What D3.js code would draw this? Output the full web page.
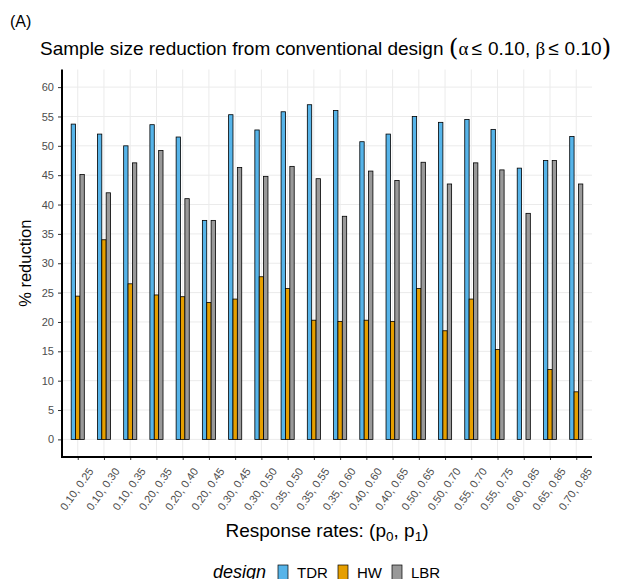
<!DOCTYPE html>
<html>
<head>
<meta charset="utf-8">
<script src="https://cdn.jsdelivr.net/npm/d3@7"></script>
<style>
  body { margin: 0; background: #fff; }
  text { font-family: "Liberation Sans", Arial, sans-serif; }
</style>
</head>
<body>
<div id="chart"></div>
<script>
// response rate pairs (p0, p1)
let rates = ["0.10, 0.25", "0.10, 0.30", "0.10, 0.35", "0.20, 0.35", "0.20, 0.40",
             "0.20, 0.45", "0.30, 0.45", "0.30, 0.50", "0.35, 0.50", "0.35, 0.55",
             "0.35, 0.60", "0.40, 0.60", "0.40, 0.65", "0.50, 0.65", "0.50, 0.70",
             "0.55, 0.70", "0.55, 0.75", "0.60, 0.85", "0.65, 0.85", "0.70, 0.85"];

let designs = ["TDR", "HW", "LBR"];

// % reduction per design
let tdr = [53.7, 52.0, 50.0, 53.6, 51.5, 37.3, 55.3, 52.7, 55.8, 57.0,
           56.0, 50.7, 52.0, 55.0, 54.0, 54.5, 52.8, 46.2, 47.5, 51.6];
let hw  = [24.4, 34.0, 26.5, 24.6, 24.3, 23.3, 23.9, 27.7, 25.7, 20.3,
           20.1, 20.3, 20.1, 25.7, 18.5, 23.9, 15.3, 0, 11.9, 8.1];
let lbr = [45.1, 42.0, 47.1, 49.2, 41.0, 37.3, 46.3, 44.8, 46.5, 44.4,
           38.0, 45.7, 44.1, 47.2, 43.5, 47.1, 45.9, 38.5, 47.5, 43.5];

let yTicks = d3.range(0, 61, 5);

let colors = {"TDR": "#56B4E9", "HW": "#E69F00", "LBR": "#999999"};

let W = 617, H = 579;
let panel = {left: 62, right: 592, top: 69.5, bottom: 457};

let svg = d3.select("#chart").append("svg")
    .attr("width", W).attr("height", H);

let x = d3.scalePoint().domain(rates).range([panel.left, panel.right]).padding(0.6);
let y = d3.scaleLinear().domain([-3, 63]).range([panel.bottom, panel.top]);

let step = x.step();
let dodge = d3.scaleBand().domain(designs).range([-step * 0.25, step * 0.25]);

// grid
let grid = svg.append("g").attr("class", "grid");
grid.selectAll(".hgrid").data(yTicks).enter().append("line")
    .attr("x1", panel.left).attr("x2", panel.right)
    .attr("y1", d => y(d)).attr("y2", d => y(d))
    .attr("stroke", "#ebebeb").attr("stroke-width", 1);
grid.selectAll(".vgrid").data(rates).enter().append("line")
    .attr("x1", d => x(d)).attr("x2", d => x(d))
    .attr("y1", panel.top).attr("y2", panel.bottom)
    .attr("stroke", "#ebebeb").attr("stroke-width", 1);

// bars
let rows = [];
rates.forEach((r, i) => {
    rows.push({rate: r, design: "TDR", value: tdr[i]});
    rows.push({rate: r, design: "HW", value: hw[i]});
    rows.push({rate: r, design: "LBR", value: lbr[i]});
});

svg.append("g").selectAll("rect").data(rows).enter().append("rect")
    .attr("x", d => x(d.rate) + dodge(d.design))
    .attr("width", dodge.bandwidth())
    .attr("y", d => y(d.value))
    .attr("height", d => y(0) - y(d.value))
    .attr("fill", d => colors[d.design])
    .attr("stroke", "#000").attr("stroke-width", 0.8);

// y axis
let yAxis = svg.append("g")
    .attr("transform", "translate(" + panel.left + ",0)")
    .call(d3.axisLeft(y).tickValues(yTicks).tickSize(4).tickPadding(4));
yAxis.select(".domain").remove();
yAxis.selectAll(".tick line").attr("stroke", "#333");
yAxis.selectAll(".tick text").attr("fill", "#4d4d4d")
    .style("font-size", "11px").style("font-family", "Liberation Sans, Arial, sans-serif");

// x axis
let xAxis = svg.append("g")
    .attr("transform", "translate(0," + panel.bottom + ")")
    .call(d3.axisBottom(x).tickSize(3).tickFormat(""));
xAxis.select(".domain").remove();
xAxis.selectAll(".tick line").attr("stroke", "#333");

svg.append("g").selectAll("text").data(rates).enter().append("text")
    .attr("transform", d => "translate(" + (x(d) + 13) + "," + (panel.bottom + 12) + ") rotate(-55)")
    .attr("text-anchor", "end")
    .attr("dy", "0.35em")
    .attr("fill", "#4d4d4d")
    .style("font-size", "11px")
    .text(d => d);

// axis lines
svg.append("line")
    .attr("x1", panel.left).attr("x2", panel.left)
    .attr("y1", panel.top).attr("y2", panel.bottom + 1)
    .attr("stroke", "#000").attr("stroke-width", 2);
svg.append("line")
    .attr("x1", panel.left - 1).attr("x2", panel.right)
    .attr("y1", panel.bottom).attr("y2", panel.bottom)
    .attr("stroke", "#000").attr("stroke-width", 2);

// y label
svg.append("text")
    .attr("transform", "translate(31," + ((panel.top + panel.bottom) / 2) + ") rotate(-90)")
    .attr("text-anchor", "middle")
    .style("font-size", "16.5px")
    .text("% reduction");

// x label
let xl = svg.append("text")
    .attr("x", (panel.left + panel.right) / 2)
    .attr("y", 537)
    .attr("text-anchor", "middle")
    .style("font-size", "19px");
xl.append("tspan").text("Response rates: (p");
xl.append("tspan").attr("dy", 4).style("font-size", "13.5px").text("0");
xl.append("tspan").attr("dy", -4).text(", p");
xl.append("tspan").attr("dy", 4).style("font-size", "13.5px").text("1");
xl.append("tspan").attr("dy", -4).text(")");

// title
let title = svg.append("text")
    .attr("x", 40).attr("y", 55)
    .style("font-size", "19px");
title.append("tspan").text("Sample size reduction from conventional design ");
title.append("tspan").style("font-size", "25px").style("font-family", "DejaVu Serif, serif").attr("dy", 1).text("(");
title.append("tspan").style("font-family", "Liberation Serif, serif").attr("dy", -1).text("\u03b1");
title.append("tspan").attr("dx", 3).text("\u2264");
title.append("tspan").attr("dx", 6).text("0.10, ");
title.append("tspan").style("font-family", "Liberation Serif, serif").text("\u03b2");
title.append("tspan").attr("dx", 3).text("\u2264");
title.append("tspan").attr("dx", 6).text("0.10");
title.append("tspan").style("font-size", "25px").style("font-family", "DejaVu Serif, serif").attr("dy", 1).text(")");

// panel tag
svg.append("text")
    .attr("x", 10).attr("y", 27)
    .style("font-size", "16px")
    .text("(A)");

// legend
let legend = svg.append("g");
legend.append("text")
    .attr("x", 213).attr("y", 578)
    .style("font-size", "18px").style("font-style", "italic")
    .text("design");
let legX = [278, 338, 392];
designs.forEach((d, i) => {
    legend.append("rect")
        .attr("x", legX[i]).attr("y", 565)
        .attr("width", 10).attr("height", 15)
        .attr("fill", colors[d]).attr("stroke", "#000").attr("stroke-width", 0.7);
    legend.append("text")
        .attr("x", legX[i] + 19).attr("y", 578)
        .style("font-size", "15px")
        .text(d);
});
</script>
</body>
</html>
